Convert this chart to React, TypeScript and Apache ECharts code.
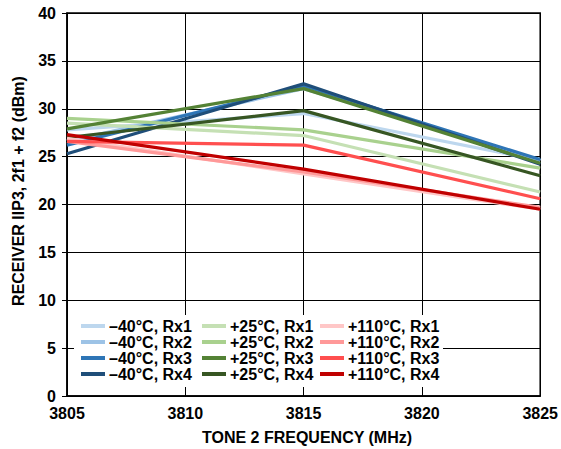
import React, { useEffect, useRef } from "react";
import * as echarts from "echarts";

const freqs = [3805, 3815, 3825];

const seriesNames = [
  "–40°C, Rx1", "–40°C, Rx2", "–40°C, Rx3", "–40°C, Rx4",
  "+25°C, Rx1", "+25°C, Rx2", "+25°C, Rx3", "+25°C, Rx4",
  "+110°C, Rx1", "+110°C, Rx2", "+110°C, Rx3", "+110°C, Rx4",
];

const m40Rx1 = [27.8, 29.5, 24.6];
const m40Rx2 = [26.6, 32.1, 24.6];
const m40Rx3 = [26.2, 32.4, 24.7];
const m40Rx4 = [25.3, 32.6, 24.2];
const p25Rx1 = [28.5, 27.2, 21.3];
const p25Rx2 = [29.0, 27.8, 23.8];
const p25Rx3 = [27.9, 32.1, 24.3];
const p25Rx4 = [27.0, 29.8, 23.0];
const p110Rx1 = [26.9, 23.2, 19.5];
const p110Rx2 = [26.6, 23.4, 19.7];
const p110Rx3 = [26.6, 26.2, 20.6];
const p110Rx4 = [27.3, 23.7, 19.5];

const seriesValues = [
  m40Rx1, m40Rx2, m40Rx3, m40Rx4,
  p25Rx1, p25Rx2, p25Rx3, p25Rx4,
  p110Rx1, p110Rx2, p110Rx3, p110Rx4,
];

const colors = [
  "#bdd7ee", "#9dc3e6", "#2e75b6", "#1f4e79",
  "#c5e0b4", "#a9d18e", "#548235", "#375623",
  "#ffc7c7", "#ff9999", "#ff4f4f", "#c00000",
];

const FONT = "'Liberation Sans', Arial, sans-serif";

export default function App() {
  const ref = useRef<HTMLDivElement>(null);
  useEffect(() => {
    if (!ref.current) return;
    const chart = echarts.init(ref.current, null, { renderer: "svg" });
    const legendBase = (names: string[], left: number) => ({
      orient: "vertical",
      left,
      top: 318,
      padding: 0,
      itemGap: 0,
      itemWidth: 24,
      itemHeight: 4,
      icon: "rect",
      data: names,
      textStyle: {
        fontFamily: FONT,
        fontWeight: "bold",
        fontSize: 16,
        color: "#000",
        lineHeight: 16,
        padding: [0, 0, 0, -1],
      },
    });
    chart.setOption({
      animation: false,
      backgroundColor: "#fff",
      color: colors,
      grid: {
        left: 67,
        right: 15,
        top: 13,
        bottom: 53,
        show: true,
        borderColor: "#000",
        borderWidth: 1.5,
      },
      xAxis: {
        type: "value",
        min: 3805,
        max: 3825,
        interval: 5,
        axisLine: { show: true, lineStyle: { color: "#000", width: 1.5 } },
        axisTick: { show: false },
        splitLine: { show: true, lineStyle: { color: "#000", width: 1 } },
        axisLabel: {
          margin: 9,
          fontFamily: FONT,
          fontWeight: "bold",
          fontSize: 16,
          color: "#000",
          formatter: (v: number) => String(v),
        },
      },
      yAxis: {
        type: "value",
        min: 0,
        max: 40,
        interval: 5,
        axisLine: { show: true, lineStyle: { color: "#000", width: 1.5 } },
        axisTick: { show: true, length: 5, lineStyle: { color: "#000", width: 1 } },
        splitLine: { show: true, lineStyle: { color: "#000", width: 1 } },
        axisLabel: {
          margin: 11,
          fontFamily: FONT,
          fontWeight: "bold",
          fontSize: 16,
          color: "#000",
        },
      },
      legend: [
        legendBase(seriesNames.slice(0, 4), 81),
        legendBase(seriesNames.slice(4, 8), 202),
        legendBase(seriesNames.slice(8, 12), 320),
      ],
      graphic: [
        {
          type: "rect",
          z: 3,
          shape: { x: 74, y: 315, width: 369, height: 72 },
          style: { fill: "#fff" },
        },
        {
          type: "text",
          x: 18,
          y: 191,
          rotation: Math.PI / 2,
          style: {
            text: "RECEIVER IIP3, 2f1 + f2 (dBm)",
            font: `bold 16px ${FONT}`,
            fill: "#000",
            align: "center",
            verticalAlign: "middle",
          },
        },
        {
          type: "text",
          x: 307,
          y: 437,
          style: {
            text: "TONE 2 FREQUENCY (MHz)",
            font: `bold 16px ${FONT}`,
            fill: "#000",
            align: "center",
            verticalAlign: "middle",
          },
        },
      ],
      series: seriesNames.map((name, i) => ({
        name,
        type: "line",
        showSymbol: false,
        symbol: "none",
        lineStyle: { width: 3.2, color: colors[i] },
        itemStyle: { color: colors[i] },
        data: freqs.map((f, j) => [f, seriesValues[i][j]]),
      })),
    });
    return () => chart.dispose();
  }, []);
  return (
    <div
      ref={ref}
      style={{ position: "fixed", left: 0, top: 0, width: 561, height: 449 }}
    />
  );
}
